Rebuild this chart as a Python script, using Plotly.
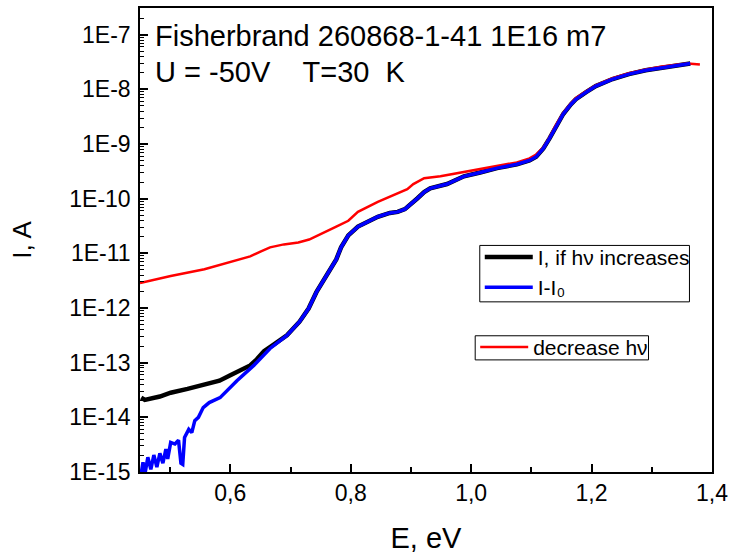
import plotly.graph_objects as go

# Photocurrent spectra, sample Fisherbrand 260868-1-41 1E16 m7, U = -50 V, T = 30 K
# Energy (eV) and current (A) for the "decrease hν" sweep
e_down = [0.450, 0.501, 0.557, 0.600, 0.633, 0.651, 0.666, 0.689, 0.713, 0.731,
          0.746, 0.776, 0.796, 0.812, 0.845, 0.878, 0.894, 0.904, 0.913, 0.922,
          0.949, 0.988, 1.043, 1.076, 1.097, 1.108, 1.120, 1.130, 1.141, 1.153,
          1.166, 1.174, 1.191, 1.207, 1.235, 1.262, 1.290, 1.317, 1.344, 1.360,
          1.380]
i_down = [2.86e-12, 3.84e-12, 5.13e-12, 6.87e-12, 8.83e-12, 1.09e-11, 1.29e-11,
          1.46e-11, 1.58e-11, 1.79e-11, 2.12e-11, 3.08e-11, 3.95e-11, 5.75e-11,
          8.73e-11, 1.27e-10, 1.50e-10, 1.85e-10, 2.09e-10, 2.38e-10, 2.58e-10,
          3.11e-10, 3.92e-10, 4.62e-10, 5.47e-10, 6.46e-10, 8.65e-10, 1.31e-09,
          2.25e-09, 3.72e-09, 5.64e-09, 6.95e-09, 9.29e-09, 1.19e-08, 1.60e-08,
          1.98e-08, 2.33e-08, 2.64e-08, 2.86e-08, 2.99e-08, 2.86e-08]

# Difference signal I - I0 (increasing hν)
e_diff = [0.452, 0.455, 0.458, 0.463, 0.468, 0.473, 0.478, 0.483, 0.488, 0.493,
          0.496, 0.501, 0.508, 0.514, 0.518, 0.521, 0.524, 0.531, 0.536, 0.541,
          0.547, 0.555, 0.565, 0.583, 0.611, 0.639, 0.666, 0.694, 0.715, 0.730,
          0.743, 0.756, 0.768, 0.776, 0.784, 0.796, 0.812, 0.829, 0.845, 0.865,
          0.878, 0.890, 0.899, 0.911, 0.922, 0.932, 0.960, 0.988, 1.015, 1.043,
          1.076, 1.097, 1.108, 1.120, 1.130, 1.141, 1.153, 1.166, 1.174, 1.191,
          1.207, 1.235, 1.262, 1.290, 1.317, 1.344, 1.364]
i_diff = [9.5e-16, 1.51e-15, 8.9e-16, 1.86e-15, 1.12e-15, 2.04e-15, 1.23e-15,
          2.19e-15, 1.45e-15, 2.63e-15, 1.74e-15, 3.47e-15, 3.24e-15, 3.80e-15,
          1.45e-15, 1.38e-15, 4.27e-15, 6.03e-15, 5.25e-15, 8.71e-15, 1.00e-14,
          1.51e-14, 1.86e-14, 2.29e-14, 4.68e-14, 8.91e-14, 1.82e-13, 3.16e-13,
          5.62e-13, 9.77e-13, 1.95e-12, 3.39e-12, 5.75e-12, 7.76e-12, 1.29e-11,
          2.14e-11, 3.09e-11, 3.80e-11, 4.68e-11, 5.50e-11, 5.75e-11, 6.46e-11,
          7.76e-11, 1.02e-10, 1.32e-10, 1.55e-10, 1.86e-10, 2.57e-10, 3.02e-10,
          3.63e-10, 4.27e-10, 5.01e-10, 5.89e-10, 8.32e-10, 1.26e-09, 2.09e-09,
          3.55e-09, 5.37e-09, 6.61e-09, 8.91e-09, 1.15e-08, 1.55e-08, 1.91e-08,
          2.24e-08, 2.51e-08, 2.82e-08, 2.99e-08]

# Total current I while hν increases (coincides with I - I0 above ~0.69 eV)
e_up = [0.452, 0.458, 0.483, 0.501, 0.529, 0.557, 0.582, 0.600, 0.618, 0.633,
        0.644, 0.656, 0.672] + e_diff[27:]
i_up = [2.29e-14, 2.09e-14, 2.40e-14, 2.82e-14, 3.31e-14, 3.89e-14, 4.68e-14,
        5.89e-14, 7.24e-14, 8.91e-14, 1.15e-13, 1.62e-13, 2.14e-13] + i_diff[27:]

y_tick_vals = [1e-15, 1e-14, 1e-13, 1e-12, 1e-11, 1e-10, 1e-9, 1e-8, 1e-7]
y_tick_text = ["1E-15", "1E-14", "1E-13", "1E-12", "1E-11", "1E-10", "1E-9", "1E-8", "1E-7"]
y_minor_vals = [m * 10.0 ** p for p in range(-15, -6) for m in range(2, 10)]

FONT = "Liberation Sans, Arial, sans-serif"

fig = go.Figure()
fig.add_trace(go.Scatter(x=e_up, y=i_up, mode="lines", name="I, if hν increases",
                         line=dict(color="black", width=4.5), legend="legend"))
fig.add_trace(go.Scatter(x=e_down, y=i_down, mode="lines", name="decrease hν",
                         line=dict(color="#ff0000", width=2.5), legend="legend2"))
fig.add_trace(go.Scatter(x=e_diff, y=i_diff, mode="lines", name="I-I₀",
                         line=dict(color="#0000ff", width=3.5), legend="legend"))

legend_style = dict(xanchor="left", yanchor="top", borderwidth=0,
                    bgcolor="rgba(0,0,0,0)", font=dict(size=21), itemwidth=48)

fig.update_layout(
    width=734, height=555,
    margin=dict(l=140, r=17, t=6, b=80),
    paper_bgcolor="white", plot_bgcolor="white",
    font=dict(family=FONT, color="black", size=20),
    separators=",.",
    xaxis=dict(
        range=[0.45, 1.4001], tickvals=[0.6, 0.8, 1.0, 1.2, 1.4], tickformat=".1f",
        ticks="inside", ticklen=8, tickwidth=1.5, tickcolor="black",
        minor=dict(tickvals=[0.5, 0.7, 0.9, 1.1, 1.3], ticks="inside", ticklen=5,
                   tickwidth=1.5, tickcolor="black"),
        showline=True, linecolor="black", linewidth=1.5, mirror=True,
        showgrid=False, zeroline=False,
        tickfont=dict(size=23),
        title=dict(text="E, eV", font=dict(size=29), standoff=22),
    ),
    yaxis=dict(
        type="log", range=[-15.0005, -6.51],
        tickmode="array", tickvals=y_tick_vals, ticktext=y_tick_text,
        ticks="inside", ticklen=8, tickwidth=1.5, tickcolor="black",
        minor=dict(tickmode="array", tickvals=y_minor_vals, ticks="inside", ticklen=4,
                   tickwidth=1, tickcolor="black"),
        showline=True, linecolor="black", linewidth=1.5, mirror=True,
        showgrid=False, zeroline=False,
        tickfont=dict(size=23), ticklabelstandoff=3,
        title=dict(text="I, A", font=dict(size=26), standoff=30),
    ),
    legend=dict(x=0.594, y=0.507, **legend_style),
    legend2=dict(x=0.586, y=0.313, **legend_style),
    shapes=[
        dict(type="rect", xref="paper", yref="paper", x0=0.594, x1=0.9606,
             y0=0.3667, y1=0.4883, line=dict(color="black", width=1)),
        dict(type="rect", xref="paper", yref="paper", x0=0.586, x1=0.889,
             y0=0.2416, y1=0.2936, line=dict(color="black", width=1)),
    ],
    annotations=[
        dict(text="Fisherbrand 260868-1-41 1E16 m7", xref="paper", yref="paper",
             x=0.0225, y=0.939, xanchor="left", yanchor="middle", showarrow=False,
             font=dict(size=29)),
        dict(text="U = -50V\u00a0\u00a0\u00a0\u00a0T=30\u00a0\u00a0K", xref="paper", yref="paper",
             x=0.0225, y=0.862, xanchor="left", yanchor="middle", showarrow=False,
             font=dict(size=29)),
    ],
)

fig.write_html("out.html")
